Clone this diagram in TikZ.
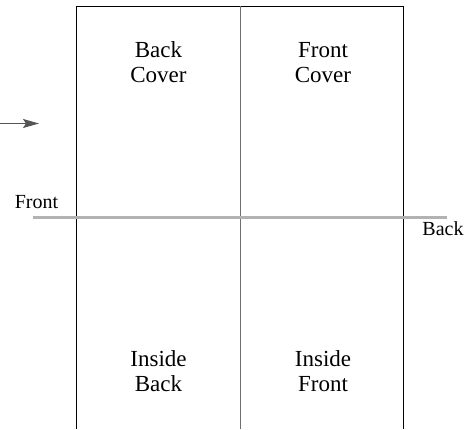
\documentclass[tikz,border=0pt]{standalone}
\usepackage{fontspec}
\setmainfont{Liberation Serif}
\usepackage{xcolor}
\definecolor{foldgray}{RGB}{178,178,178}
\definecolor{arrowgray}{RGB}{85,85,85}
\definecolor{creasegray}{RGB}{110,110,110}
\usetikzlibrary{arrows.meta, positioning}

\begin{document}
\begin{tikzpicture}[x=1pt, y=-1pt,
    panellabel/.style={font=\fontsize{23}{25}\selectfont, align=center, inner sep=0pt},
    sidelabel/.style={font=\fontsize{20}{22}\selectfont, inner sep=0pt}]
\useasboundingbox (0,0) rectangle (466,429);

% === Sheet outline (runs off the bottom) ===
\coordinate (sheetbl) at (76.5,429);
\coordinate (sheettl) at (76.5,6);
\coordinate (sheettr) at (403.5,6);
\coordinate (sheetbr) at (403.5,429);
\draw[black, line width=1pt] (sheetbl) -- (sheettl) -- (sheettr) -- (sheetbr);

% Middle crease
\coordinate (creasetop) at (240,6);
\coordinate (creasebot) at (240,429);
\draw[creasegray, line width=0.9pt] (creasetop) -- (creasebot);

% === Fold line ===
\coordinate (foldleft) at (33,217);
\coordinate (foldright) at (447,217);
\draw[foldgray, line width=3pt] (foldleft) -- (foldright);

% === Panel labels ===
\node[panellabel] (backcover) at (158.5,62.2) {Back\\Cover};
\node[panellabel] (frontcover) at (323,62.2) {Front\\Cover};
\node[panellabel] (insideback) at (158.5,371.5) {Inside\\Back};
\node[panellabel] (insidefront) at (323,371.5) {Inside\\Front};

% Side labels
\node[sidelabel] (frontlabel) at (36.5,202.5) {Front};
\node[sidelabel] (backlabel) at (443,229) {Back};

% Arrow
\coordinate (arrowstart) at (0,123.5);
\coordinate (arrowtip) at (39,123.5);
\draw[-{Stealth[length=16pt, width=9pt, inset=3pt]}, arrowgray, line width=1.1pt] (arrowstart) -- (arrowtip);

\end{tikzpicture}
\end{document}
